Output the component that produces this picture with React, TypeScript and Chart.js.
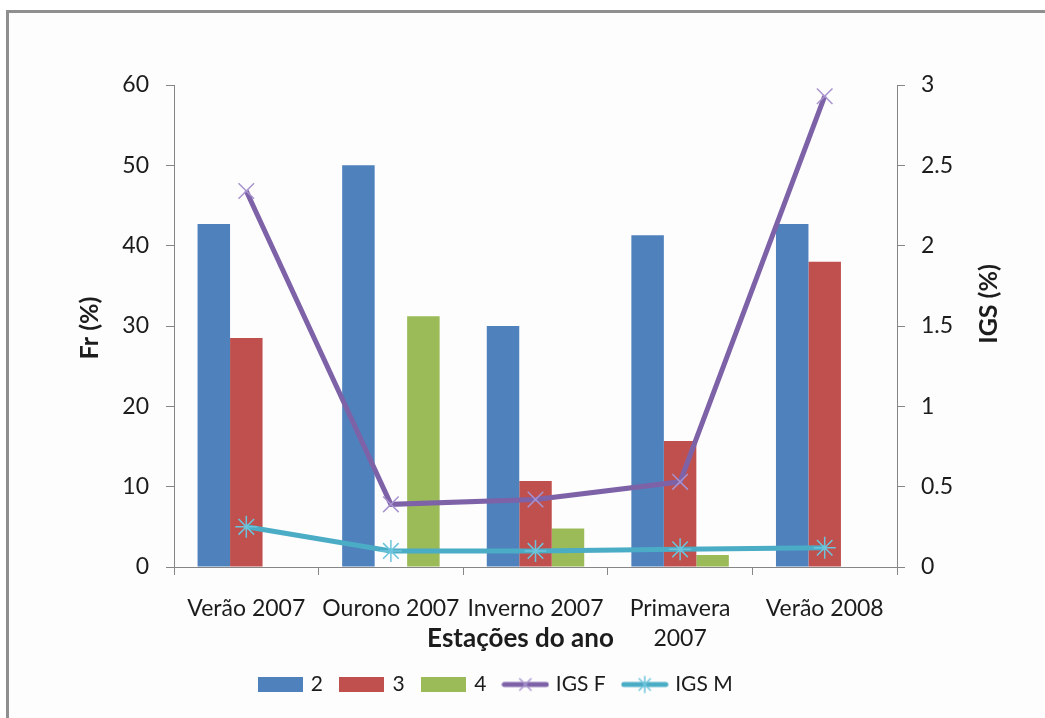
import React, { useEffect, useRef } from 'react';
import { Chart, registerables } from 'chart.js';

Chart.register(...registerables);

// ---- data ----
const categories: (string | string[])[] = ['Verão 2007', 'Ourono 2007', 'Inverno 2007', ['Primavera', '2007'], 'Verão 2008'];
const series2 = [42.7, 50, 30, 41.3, 42.7];
const series3 = [28.5, null, 10.7, 15.7, 38];
const series4 = [null, 31.2, 4.8, 1.5, null];
const igsF = [2.34, 0.39, 0.42, 0.53, 2.93];
const igsM = [0.25, 0.1, 0.1, 0.11, 0.12];
const seriesNames = ['2', '3', '4', 'IGS F', 'IGS M'];
const frAxis = { min: 0, max: 60, step: 10 };
const igsAxis = { min: 0, max: 3, step: 0.5 };
const titleX = 'Estações do ano';
const titleYLeft = 'Fr (%)';
const titleYRight = 'IGS (%)';

const COLORS = {
  blue: '#4F81BD',
  red: '#C0504D',
  green: '#9BBB59',
  purple: '#7E62A8',
  purpleMarker: '#A893CF',
  cyan: '#4BACC6',
  cyanMarker: '#6CC4DC',
  axis: '#868686',
  text: '#1c1c1c',
};

const FONT = 'Lato';

function boxImg(color: string) {
  const c = document.createElement('canvas');
  c.width = 45;
  c.height = 15;
  const ctx = c.getContext('2d')!;
  ctx.fillStyle = color;
  ctx.fillRect(0, 0, 45, 15);
  return c;
}

function lineImg(color: string, marker: string, star: boolean) {
  const c = document.createElement('canvas');
  c.width = 48;
  c.height = 22;
  const ctx = c.getContext('2d')!;
  ctx.strokeStyle = color;
  ctx.lineWidth = 5;
  ctx.lineCap = 'round';
  ctx.beginPath();
  ctx.moveTo(3, 11);
  ctx.lineTo(45, 11);
  ctx.stroke();
  ctx.strokeStyle = marker;
  ctx.lineWidth = 1.5;
  const r = 8;
  ctx.beginPath();
  const d = r * Math.SQRT1_2;
  ctx.moveTo(24 - d, 11 - d);
  ctx.lineTo(24 + d, 11 + d);
  ctx.moveTo(24 + d, 11 - d);
  ctx.lineTo(24 - d, 11 + d);
  if (star) {
    ctx.moveTo(24, 11 - r);
    ctx.lineTo(24, 11 + r);
  }
  ctx.stroke();
  return c;
}

const titlesPlugin = {
  id: 'customAxisTitles',
  afterDraw(chart: any) {
    const { ctx, chartArea } = chart;
    const { left, right, top, bottom } = chartArea;
    ctx.save();
    ctx.fillStyle = COLORS.text;
    ctx.textAlign = 'center';
    ctx.textBaseline = 'middle';
    ctx.font = `bold 26px ${FONT}`;
    ctx.fillText(titleX, (left + right) / 2 - 15, bottom + 72);

    ctx.font = `bold 25px ${FONT}`;
    ctx.save();
    ctx.translate(left - 84, (top + bottom) / 2 + 2);
    ctx.rotate(-Math.PI / 2);
    ctx.fillText(titleYLeft, 0, 0);
    ctx.restore();

    ctx.save();
    ctx.translate(right + 92, (top + bottom) / 2 - 22);
    ctx.rotate(-Math.PI / 2);
    ctx.fillText(titleYRight, 0, 0);
    ctx.restore();

    ctx.restore();
  },
};

export default function App() {
  const ref = useRef<HTMLCanvasElement | null>(null);

  useEffect(() => {
    if (!ref.current) return;
    const legendImgs = [
      boxImg(COLORS.blue),
      boxImg(COLORS.red),
      boxImg(COLORS.green),
      lineImg(COLORS.purple, COLORS.purpleMarker, false),
      lineImg(COLORS.cyan, COLORS.cyanMarker, true),
    ];
    const chart = new Chart(ref.current, {
      type: 'bar',
      data: {
        labels: categories as any,
        datasets: [
          { type: 'bar', label: seriesNames[0], data: series2 as any, backgroundColor: COLORS.blue, yAxisID: 'y', order: 2 },
          { type: 'bar', label: seriesNames[1], data: series3 as any, backgroundColor: COLORS.red, yAxisID: 'y', order: 2 },
          { type: 'bar', label: seriesNames[2], data: series4 as any, backgroundColor: COLORS.green, yAxisID: 'y', order: 2 },
          {
            type: 'line', label: seriesNames[3], data: igsF, yAxisID: 'y1', order: 1,
            borderColor: COLORS.purple, borderWidth: 5, backgroundColor: COLORS.purple,
            pointStyle: 'crossRot', pointRadius: 11, pointBorderColor: COLORS.purpleMarker, pointBorderWidth: 1.5,
            tension: 0,
          },
          {
            type: 'line', label: seriesNames[4], data: igsM, yAxisID: 'y1', order: 0,
            borderColor: COLORS.cyan, borderWidth: 5, backgroundColor: COLORS.cyan,
            pointStyle: 'star', pointRadius: 11, pointBorderColor: COLORS.cyanMarker, pointBorderWidth: 1.5,
            tension: 0,
          },
        ] as any,
      },
      plugins: [titlesPlugin],
      options: {
        responsive: false,
        animation: false,
        events: [],
        layout: { padding: { top: 85, left: 0, right: 52, bottom: 13 } },
        datasets: { bar: { categoryPercentage: 0.674, barPercentage: 1 } },
        plugins: {
          tooltip: { enabled: false },
          title: { display: false },
          legend: {
            position: 'bottom',
            labels: {
              usePointStyle: true,
              pointStyleWidth: 40,
              padding: 19,
              color: COLORS.text,
              font: { family: FONT, size: 21 },
              generateLabels: (ch: any) =>
                ch.data.datasets.map((ds: any, i: number) => ({
                  text: ds.label,
                  pointStyle: legendImgs[i],
                  fillStyle: 'transparent',
                  strokeStyle: 'transparent',
                  lineWidth: 0,
                  hidden: false,
                  datasetIndex: i,
                  fontColor: COLORS.text,
                })),
            },
          },
        },
        scales: {
          x: {
            type: 'category',
            offset: true,
            grid: { display: true, offset: true, drawOnChartArea: false, drawTicks: true, tickLength: 8, color: COLORS.axis },
            border: { display: true, color: COLORS.axis, width: 1 },
            ticks: {
              color: COLORS.text,
              font: { family: FONT, size: 23, lineHeight: 1.3 },
              padding: 19,
              maxRotation: 0,
              minRotation: 0,
              autoSkip: false,
            },
            afterFit: (s: any) => { s.height = 88; },
          },
          y: {
            type: 'linear',
            position: 'left',
            min: frAxis.min,
            max: frAxis.max,
            grid: { display: true, drawOnChartArea: false, drawTicks: true, tickLength: 8, color: COLORS.axis },
            border: { display: true, color: COLORS.axis, width: 1 },
            ticks: { stepSize: frAxis.step, color: COLORS.text, font: { family: FONT, size: 23 }, padding: 17 },
            afterFit: (s: any) => { s.width = 174; },
          },
          y1: {
            type: 'linear',
            position: 'right',
            min: igsAxis.min,
            max: igsAxis.max,
            grid: { display: true, drawOnChartArea: false, drawTicks: true, tickLength: 8, color: COLORS.axis },
            border: { display: true, color: COLORS.axis, width: 1 },
            ticks: {
              stepSize: igsAxis.step,
              color: COLORS.text,
              font: { family: FONT, size: 23 },
              padding: 16,
              callback: (v: any) => String(Number(v)),
            },
            afterFit: (s: any) => { s.width = 96; },
          },
        },
      } as any,
    });
    return () => chart.destroy();
  }, []);

  return (
    <>
      <div
        style={{
          position: 'absolute',
          left: 6,
          top: 10,
          width: 1039 - 3,
          height: 708 - 3,
          borderLeft: '3px solid #8f8f8f',
          borderTop: '3px solid #8f8f8f',
          background: '#fdfdfd',
        }}
      />
      <canvas
        ref={ref}
        width={1045}
        height={718}
        style={{ position: 'absolute', left: 0, top: 0, width: 1045, height: 718 }}
      />
    </>
  );
}
